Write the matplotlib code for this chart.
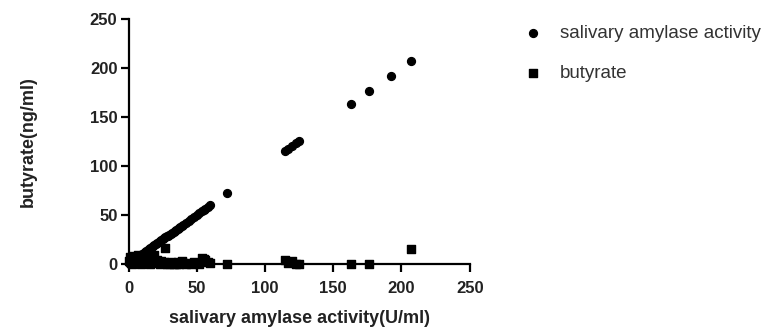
import matplotlib
matplotlib.use("Agg")
import matplotlib.pyplot as plt

nan = float('nan')

# salivary amylase activity (U/ml) for each sample
amylase = [0.5, 1, 1.5, 2, 2.5, 3, 4, 5, 6, 7, 8, 9, 10, 11, 12, 13, 14, 15,
           16, 17, 18, 19, 20, 21, 22, 23, 24, 25, 26, 27, 28, 29, 30, 31, 32,
           33, 34, 35, 36, 37, 38, 39, 40, 42, 44, 46, 48, 50, 52, 54, 55, 56,
           58, 60, 72, 115, 117, 120, 123, 125, 163, 176, 192, 207]
# butyrate (ng/ml) for the same samples (no value read at 192)
butyrate = [3, 7, 1, 5, 0, 8, 2, 6, 1, 9, 3, 0, 7, 4, 1, 8, 2, 5,
            0, 3, 6, 9, 1, 4, 2, 0, 3, 1, 2, 16, 0, 1, 0, 2, 1,
            0, 1, 0, 2, 0, 1, 3, 1, 0, 1, 0, 2, 1, 0, 6, 5, 4,
            2, 1, 0, 4, 1, 3, 0, 0, 0, 0, nan, 15]

plt.rcParams['font.family'] = ['Liberation Sans', 'DejaVu Sans']

fig = plt.figure(figsize=(7.65, 3.32), dpi=100)
ax = fig.add_axes([0.168, 0.205, 0.446, 0.738])

ax.scatter(amylase, amylase, marker='o', s=32, color='black', clip_on=False,
           zorder=3, label='salivary amylase activity')
ax.scatter(amylase, butyrate, marker='s', s=26, color='black', clip_on=False,
           zorder=3, label='butyrate')

ax.set_xlim(0, 250)
ax.set_ylim(0, 250)
ax.set_xticks([0, 50, 100, 150, 200, 250])
ax.set_yticks([0, 50, 100, 150, 200, 250])
ax.spines['top'].set_visible(False)
ax.spines['right'].set_visible(False)
for s in ['left', 'bottom']:
    ax.spines[s].set_linewidth(1.6)
ax.tick_params(width=1.6, length=6, labelsize=12)
ax.tick_params(axis='x', pad=6)
ax.tick_params(axis='y', pad=2)
for lab in ax.get_xticklabels() + ax.get_yticklabels():
    lab.set_fontweight('bold')
    lab.set_color('#222222')

ax.set_xlabel('salivary amylase activity(U/ml)', fontsize=13, fontweight='bold',
              color='#222222')
ax.set_ylabel('butyrate(ng/ml)', fontsize=13, fontweight='bold', color='#222222')
ax.xaxis.set_label_coords(0.5, -0.19)
ax.yaxis.set_label_coords(-0.268, 0.5)

leg = fig.legend(loc='upper left', bbox_to_anchor=(0.672, 0.925), frameon=False,
                 prop={'size': 13.5}, borderpad=0, borderaxespad=0,
                 labelspacing=1.2, handletextpad=0.45, labelcolor='#333333')

fig.savefig('out.png', dpi=100)
